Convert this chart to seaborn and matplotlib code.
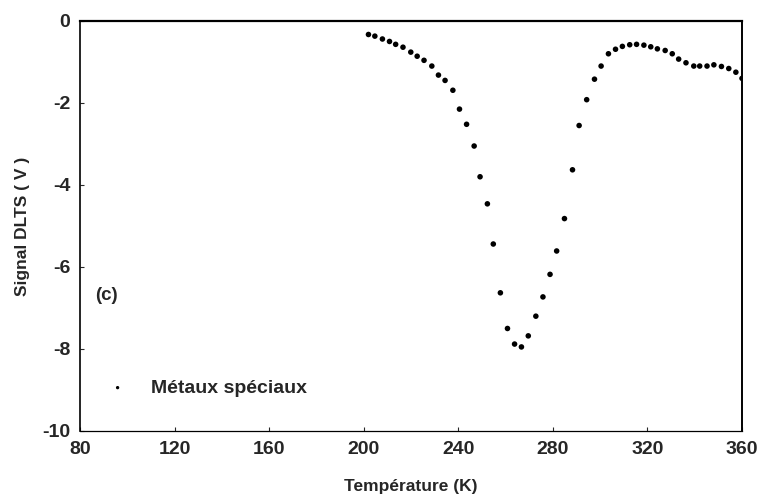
import numpy as np
import pandas as pd
import matplotlib
matplotlib.use("Agg")
import matplotlib.pyplot as plt
import seaborn as sns

# DLTS signal, "Métaux spéciaux" sample (c)
temperature = [202.0, 204.7, 207.9, 210.9, 213.5, 216.6, 219.9, 222.6, 225.5, 228.8,
               231.6, 234.4, 237.7, 240.5, 243.5, 246.7, 249.2, 252.3, 254.8, 257.8,
               260.8, 263.8, 266.7, 269.6, 272.8, 275.8, 278.8, 281.6, 284.9, 288.3,
               291.1, 294.3, 297.6, 300.4, 303.5, 306.5, 309.4, 312.5, 315.4, 318.5,
               321.4, 324.2, 327.5, 330.5, 333.2, 336.3, 339.6, 342.1, 345.2, 348.1,
               351.3, 354.4, 357.4, 360.0]
signal = [-0.33, -0.37, -0.44, -0.50, -0.57, -0.64, -0.76, -0.86, -0.96, -1.10,
          -1.32, -1.45, -1.69, -2.15, -2.52, -3.05, -3.80, -4.46, -5.44, -6.63,
          -7.50, -7.88, -7.95, -7.68, -7.20, -6.73, -6.18, -5.61, -4.82, -3.63,
          -2.55, -1.92, -1.42, -1.10, -0.80, -0.69, -0.62, -0.58, -0.57, -0.59,
          -0.63, -0.68, -0.72, -0.80, -0.93, -1.02, -1.10, -1.10, -1.10, -1.07,
          -1.11, -1.16, -1.25, -1.40]
series_label = "Métaux spéciaux"

x_ticks = [80, 120, 160, 200, 240, 280, 320, 360]
y_ticks = [0, -2, -4, -6, -8, -10]

df = pd.DataFrame({"T": temperature, "S": signal})

sns.set_style("ticks")
plt.rcParams["font.family"] = ["Liberation Sans", "DejaVu Sans"]
plt.rcParams["font.weight"] = "bold"
plt.rcParams["axes.unicode_minus"] = False

fig = plt.figure(figsize=(7.71, 4.99), dpi=100)
ax = fig.add_axes([0.1038, 0.1363, 0.8586, 0.8217])

sns.scatterplot(data=df, x="T", y="S", ax=ax, color="black", s=16,
                edgecolor="none", label=series_label)

ax.set_xlim(80, 360)
ax.set_ylim(-10, 0)
ax.set_xticks(x_ticks)
ax.set_yticks(y_ticks)
ax.tick_params(direction="in", length=3, width=0.8, labelsize=14, pad=7)
for lab in ax.get_xticklabels() + ax.get_yticklabels():
    lab.set_fontweight("bold")
for sp in ax.spines.values():
    sp.set_visible(True)
    sp.set_color("black")
ax.spines["top"].set_linewidth(1.6)
ax.spines["right"].set_linewidth(1.4)
ax.spines["left"].set_linewidth(1.2)
ax.spines["bottom"].set_linewidth(0.9)

ax.set_xlabel("Température (K)", fontsize=12.5, fontweight="bold", labelpad=15)
ax.set_ylabel("Signal DLTS ( V )", fontsize=12.5, fontweight="bold", labelpad=9)

ax.text(0.023, 0.33, "(c)", transform=ax.transAxes, fontsize=13.5,
        fontweight="bold", va="center", ha="left")

leg = ax.legend(loc="center left", bbox_to_anchor=(0.045, 0.105), frameon=False,
                handlelength=0.8, handletextpad=1.3, borderpad=0, borderaxespad=0,
                markerscale=0.6, prop={"size": 14, "weight": "bold"})

fig.savefig("out.png", dpi=100)
